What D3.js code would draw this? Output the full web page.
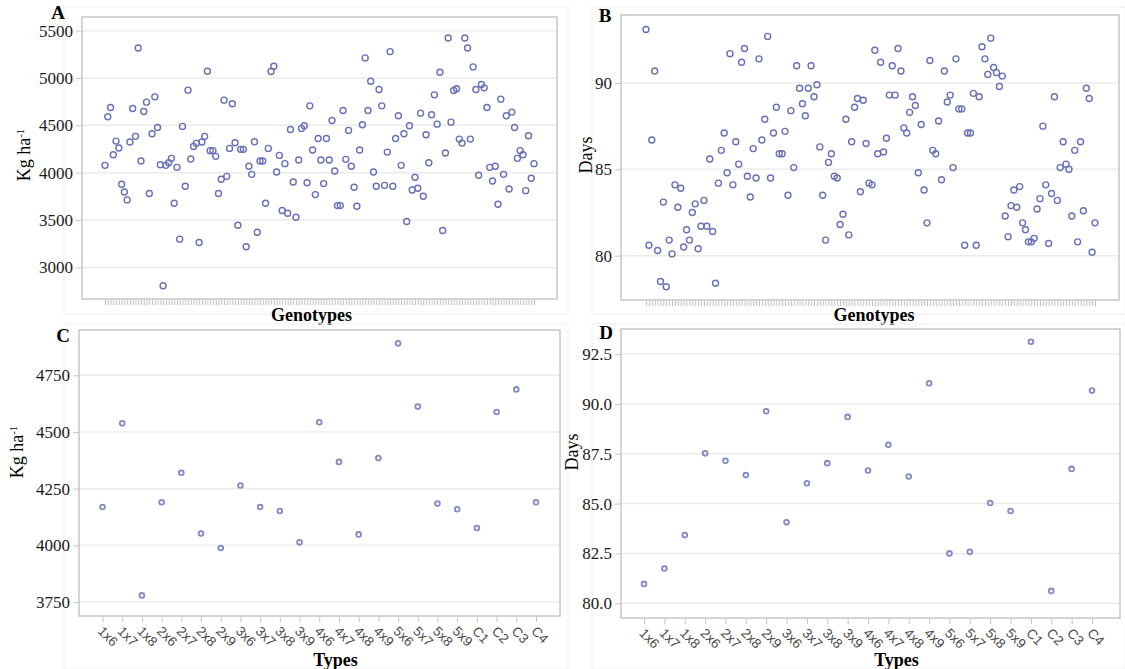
<!DOCTYPE html>
<html>
<head>
<meta charset="utf-8">
<script src="https://cdn.jsdelivr.net/npm/d3@7"></script>
<style>
  body { margin: 0; background: #fff; }
  svg { display: block; }
</style>
</head>
<body>
<div id="chart"></div>
<script>
const SVG_WIDTH = 1125;
const SVG_HEIGHT = 669;

// A: yield per genotype (Kg ha-1)
const yieldA = [4078,4591,4689,4190,4334,4261,3878,3797,3713,4324,
    4678,4384,5317,4124,4647,4745,3780,4412,4801,4478,
    4085,2807,4078,4106,4152,3678,4057,3299,4489,3857,
    4872,4145,4278,4310,3264,4324,4384,5072,4233,4233,
    4173,3780,3931,4766,3962,4257,4728,4317,3446,4247,
    4247,3218,4068,3983,4327,3372,4124,4124,3678,4257,
    5068,5124,4008,4183,3601,4096,3572,4457,3902,3530,
    4134,4468,4496,3895,4706,4240,3769,4362,4134,3885,
    4362,4134,4552,4018,3653,3653,4657,4141,4447,4068,
    3846,3646,4240,4506,5212,4657,4966,4008,3857,4879,
    4706,3867,4218,5279,3857,4362,4601,4078,4412,3485,
    4496,3818,3952,3836,4629,3752,4401,4106,4612,4822,
    4513,5061,3390,4208,5423,4534,4868,4886,4355,4313,
    5423,5317,4355,5117,4879,3973,4931,4896,4689,4057,
    3913,4068,3667,4777,3983,4601,3829,4640,4478,4152,
    4233,4190,3811,4391,3941,4096];

// B: days per genotype
const daysB = [93.1,80.6,86.7,90.7,80.3,78.5,83.1,78.2,80.9,80.1,
    84.1,82.8,83.9,80.5,81.5,80.9,82.5,83.0,80.4,81.7,
    83.2,81.7,85.6,81.4,78.4,84.2,86.1,87.1,84.8,91.7,
    84.1,86.6,85.3,91.2,92.0,84.6,83.4,86.2,84.5,91.4,
    86.7,87.9,92.7,84.5,87.1,88.6,85.9,85.9,87.2,83.5,
    88.4,85.1,91.0,89.7,88.8,88.1,89.7,91.0,89.2,89.9,
    86.3,83.5,80.9,85.4,85.9,84.6,84.5,81.8,82.4,87.9,
    81.2,86.6,88.6,89.1,83.7,89.0,86.5,84.2,84.1,91.9,
    85.9,91.2,86.0,86.8,89.3,91.0,89.3,92.0,90.7,87.4,
    87.1,88.3,89.2,88.7,84.8,87.6,83.8,81.9,91.3,86.1,
    85.9,87.8,84.4,90.7,88.9,89.3,85.1,91.4,88.5,88.5,
    80.6,87.1,87.1,89.4,80.6,89.2,92.1,91.4,90.5,92.6,
    90.9,90.6,89.8,90.4,82.3,81.1,82.9,83.8,82.8,84.0,
    81.9,81.5,80.8,80.8,81.0,82.7,83.3,87.5,84.1,80.7,
    83.6,89.2,83.2,85.1,86.6,85.3,85.0,82.3,86.1,80.8,
    86.6,82.6,89.7,89.1,80.2,81.9];

const genotypes = yieldA.map((d, i) => "G" + (i + 1));

// C, D: per type
const types = ["1x6", "1x7", "1x8", "2x6", "2x7", "2x8", "2x9", "3x6", "3x7", "3x8", "3x9",
    "4x6", "4x7", "4x8", "4x9", "5x6", "5x7", "5x8", "5x9", "C1", "C2", "C3", "C4"];
const yieldC = [4169, 4538, 3779, 4190, 4320, 4052, 3988, 4264, 4169, 4151, 4013,
    4543, 4368, 4048, 4385, 4891, 4612, 4184, 4159, 4076, 4588, 4688, 4190];
const daysD = [80.97, 81.74, 83.42, 87.52, 87.15, 86.43, 89.63, 84.06, 86.02, 87.03, 89.35,
    86.66, 87.95, 86.36, 91.04, 82.50, 82.58, 85.03, 84.63, 93.12, 80.62, 86.74, 90.67];

const ticksA = [3000, 3500, 4000, 4500, 5000, 5500];
const ticksB = [80, 85, 90];
const ticksC = [3750, 4000, 4250, 4500, 4750];
const ticksD = [80, 82.5, 85, 87.5, 90, 92.5];

const svg = d3.select("#chart").append("svg")
    .attr("width", SVG_WIDTH)
    .attr("height", SVG_HEIGHT);

const SERIF = "'Liberation Serif', 'Times New Roman', serif";
const SANS = "'Liberation Sans', Arial, sans-serif";

function drawPanel(p) {
    const g = svg.append("g");

    // faint outer box
    g.append("rect")
        .attr("x", p.outer[0]).attr("y", p.outer[1])
        .attr("width", p.outer[2] - p.outer[0]).attr("height", p.outer[3] - p.outer[1])
        .attr("fill", "none").attr("stroke", "#f0f0f0").attr("stroke-width", 1);

    const x = d3.scalePoint().domain(p.cats).range(p.xr);
    const y = d3.scaleLinear().domain(p.yd).range([p.frame.bottom, p.frame.top]);

    // grid
    g.append("g").selectAll("line").data(p.ticks).enter().append("line")
        .attr("x1", p.frame.left).attr("x2", p.frame.right)
        .attr("y1", d => y(d)).attr("y2", d => y(d))
        .attr("stroke", "#ebebeb").attr("stroke-width", 1.5);

    // frame
    g.append("rect")
        .attr("x", p.frame.left).attr("y", p.frame.top)
        .attr("width", p.frame.right - p.frame.left)
        .attr("height", p.frame.bottom - p.frame.top)
        .attr("fill", "none").attr("stroke", "#c6c6c6").attr("stroke-width", 1.5);

    // y axis
    const yAxis = d3.axisLeft(y).tickValues(p.ticks).tickSize(6).tickPadding(3)
        .tickFormat(p.fmt);
    const ya = g.append("g")
        .attr("transform", `translate(${p.frame.left},0)`)
        .call(yAxis);
    ya.select(".domain").remove();
    ya.selectAll("line").attr("stroke", "#c6c6c6");
    ya.selectAll("text").style("font-family", SERIF).style("font-size", "17px").attr("fill", "#1a1a1a");

    // x axis
    const xAxis = d3.axisBottom(x).tickSize(p.xTick).tickSizeOuter(0);
    const xa = g.append("g")
        .attr("transform", `translate(0,${p.frame.bottom + 1})`)
        .call(xAxis);
    xa.select(".domain").remove();
    xa.selectAll("line").attr("stroke", "#c0c0c0");
    if (p.xLabels) {
        xa.selectAll("text")
            .attr("text-anchor", "start")
            .attr("x", 0).attr("y", 0).attr("dy", 0)
            .attr("transform", "translate(-6,15) rotate(45)")
            .style("font-family", SANS).style("font-size", "13.5px").attr("fill", "#4a4a4a");
    } else {
        xa.selectAll("text").remove();
    }

    // points
    g.append("g").selectAll("circle").data(p.values).enter().append("circle")
        .attr("cx", (d, i) => x(p.cats[i]))
        .attr("cy", d => y(d))
        .attr("r", p.r)
        .attr("fill", "none")
        .attr("stroke", p.color)
        .attr("stroke-width", p.sw);

    // axis titles
    g.append("text")
        .attr("x", (p.frame.left + p.frame.right) / 2 + p.xtOff)
        .attr("y", p.xtY)
        .attr("text-anchor", "middle")
        .style("font-family", SERIF).style("font-size", "18px").style("font-weight", "bold")
        .text(p.xTitle);

    const yt = g.append("text")
        .attr("transform", `translate(${p.ytX},${p.ytY}) rotate(-90)`)
        .attr("text-anchor", "middle")
        .style("font-family", SERIF).style("font-size", "18px");
    if (p.yTitle === "Kg") {
        yt.append("tspan").text("Kg ha");
        yt.append("tspan").attr("baseline-shift", "super").style("font-size", "11px").text("-1");
    } else {
        yt.text(p.yTitle);
    }

    // panel letter
    g.append("text")
        .attr("x", p.letter[0]).attr("y", p.letter[1])
        .attr("text-anchor", "middle")
        .style("font-family", SERIF).style("font-size", "19px").style("font-weight", "bold")
        .text(p.name);
}

drawPanel({
    name: "A", letter: [58, 19], outer: [64, 7, 568, 314],
    cats: genotypes, values: yieldA, xr: [105, 534],
    frame: { left: 82, right: 557, top: 17, bottom: 299 },
    yd: [2667, 5644], ticks: ticksA, fmt: d3.format("d"),
    xTick: 5, xLabels: false, r: 3, sw: 1.4, color: "#6770b6",
    xTitle: "Genotypes", xtY: 321, xtOff: -8, yTitle: "Kg", ytX: 30, ytY: 155
});

drawPanel({
    name: "B", letter: [605, 22], outer: [592, 7, 1125, 314],
    cats: genotypes, values: daysB, xr: [646, 1095],
    frame: { left: 621, right: 1119, top: 15, bottom: 300 },
    yd: [77.43, 93.94], ticks: ticksB, fmt: d3.format("d"),
    xTick: 5, xLabels: false, r: 3, sw: 1.4, color: "#6770b6",
    xTitle: "Genotypes", xtY: 321, xtOff: 4, yTitle: "Days", ytX: 592, ytY: 155
});

drawPanel({
    name: "C", letter: [63, 342], outer: [64, 324, 568, 669],
    cats: types, values: yieldC, xr: [102.5, 536],
    frame: { left: 79, right: 560, top: 330, bottom: 616 },
    yd: [3688, 4950], ticks: ticksC, fmt: d3.format("d"),
    xTick: 5, xLabels: true, r: 2.4, sw: 1.8, color: "#8189c6",
    xTitle: "Types", xtY: 666, xtOff: 16, yTitle: "Kg", ytX: 23, ytY: 452
});

drawPanel({
    name: "D", letter: [606, 339], outer: [592, 324, 1125, 669],
    cats: types, values: daysD, xr: [644, 1092],
    frame: { left: 621, right: 1120, top: 329, bottom: 618 },
    yd: [79.26, 93.76], ticks: ticksD, fmt: d3.format(".1f"),
    xTick: 5, xLabels: true, r: 2.4, sw: 1.8, color: "#8189c6",
    xTitle: "Types", xtY: 666, xtOff: 26, yTitle: "Days", ytX: 578, ytY: 452
});
</script>
</body>
</html>
